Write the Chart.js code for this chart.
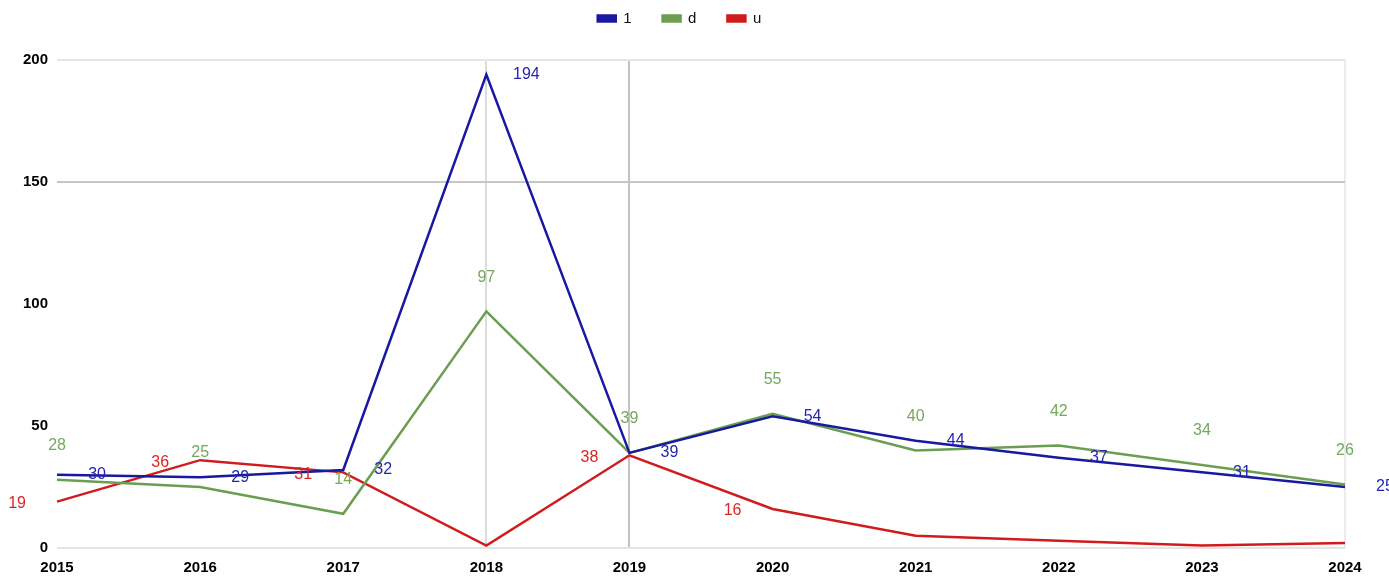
<!DOCTYPE html>
<html>
<head>
<meta charset="utf-8">
<script src="https://cdn.jsdelivr.net/npm/chart.js@4.4.1/dist/chart.umd.min.js"></script>
<style>
  html, body { margin: 0; padding: 0; background: #ffffff; }
  #wrap { position: relative; width: 1389px; height: 578px; }
</style>
</head>
<body>
<div id="wrap"><canvas id="c" width="1389" height="578"></canvas></div>
<script>
const categories = ['2015', '2016', '2017', '2018', '2019', '2020', '2021', '2022', '2023', '2024'];
const seriesNames = ['1', 'd', 'u'];
const series1 = [30, 29, 32, 194, 39, 54, 44, 37, 31, 25];
const seriesD = [28, 25, 14, 97, 39, 55, 40, 42, 34, 26];
const seriesU = [19, 36, 31, 1, 38, 16, 5, 3, 1, 2];
const yTicks = [0, 50, 100, 150, 200];

const FONT = "'Liberation Sans', Arial, sans-serif";
const lineColors = ['#1818a0', '#6c9e52', '#d01c1c'];
const labelColors = ['#2424b0', '#74a85a', '#dd2424'];

const labelPlugin = {
  id: 'pointLabels',
  afterDatasetsDraw(chart) {
    const ctx = chart.ctx;
    ctx.save();
    ctx.font = '16px ' + FONT;
    ctx.textBaseline = 'middle';
    ctx.textAlign = 'center';
    chart.data.datasets.forEach((ds, i) => {
      const meta = chart.getDatasetMeta(i);
      meta.data.forEach((pt, j) => {
        const v = ds.data[j];
        if (v < 10) return;
        let x = pt.x, y = pt.y;
        if (i === 0) { x += 40; }
        else if (i === 1) { y -= 34; }
        else { x -= 40; y += 2; }
        ctx.fillStyle = labelColors[i];
        ctx.fillText(String(v), x, y);
      });
    });
    ctx.restore();
  }
};

const legendShift = {
  id: 'legendShift',
  afterLayout(chart) {
    if (chart.legend) { chart.legend.top = -20; }
  }
};

const yGridColors = ['#e4e4e4', 'rgba(0,0,0,0)', 'rgba(0,0,0,0)', '#c6c6c6', '#e6e6e6'];
const xGridColor = (ctx) => {
  const i = ctx.index;
  if (i === 3) return '#dcdcdc';
  if (i === 4) return '#c2c2c2';
  if (i === 9) return '#ececec';
  return 'rgba(0,0,0,0)';
};

new Chart(document.getElementById('c'), {
  type: 'line',
  data: {
    labels: categories,
    datasets: [
      { label: seriesNames[0], data: series1, borderColor: lineColors[0], backgroundColor: lineColors[0] },
      { label: seriesNames[1], data: seriesD, borderColor: lineColors[1], backgroundColor: lineColors[1] },
      { label: seriesNames[2], data: seriesU, borderColor: lineColors[2], backgroundColor: lineColors[2] }
    ]
  },
  options: {
    responsive: false,
    animation: false,
    devicePixelRatio: 1,
    layout: { padding: { left: 14, right: 44, top: 4, bottom: 0 } },
    elements: {
      line: { borderWidth: 2.5, tension: 0 },
      point: { radius: 0, hoverRadius: 0 }
    },
    plugins: {
      legend: {
        position: 'top',
        labels: {
          boxWidth: 18,
          boxHeight: 6,
          padding: 31,
          color: '#111',
          font: { family: FONT, size: 15 }
        }
      },
      tooltip: { enabled: false }
    },
    scales: {
      x: {
        offset: false,
        border: { display: false },
        grid: { color: xGridColor, lineWidth: 2, drawTicks: false },
        ticks: { color: '#000', padding: 11, font: { family: FONT, size: 15, weight: 'bold' }, maxRotation: 0 },
        afterFit(scale) { scale.height = 30; }
      },
      y: {
        min: 0,
        max: 200,
        border: { display: false },
        grid: { color: (ctx) => yGridColors[ctx.index] || 'rgba(0,0,0,0)', lineWidth: 2, drawTicks: false },
        afterBuildTicks(axis) { axis.ticks = yTicks.map(v => ({ value: v })); },
        ticks: { color: '#000', padding: 9, font: { family: FONT, size: 15, weight: 'bold' } }
      }
    }
  },
  plugins: [labelPlugin, legendShift]
});
</script>
</body>
</html>
